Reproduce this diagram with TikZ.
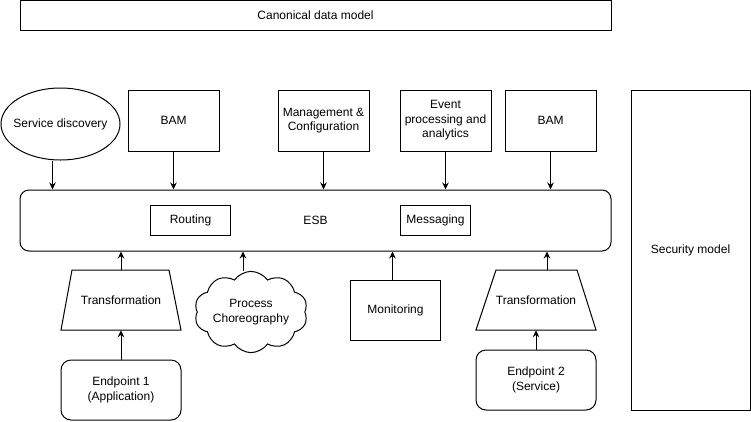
\documentclass[tikz,border=0pt]{standalone}
\usepackage{fontspec}
\setmainfont{Liberation Sans}
\usetikzlibrary{arrows.meta,shapes.geometric,shapes.symbols}
\begin{document}
\begin{tikzpicture}[x=1pt,y=-1pt,
  every node/.style={font=\fontsize{12}{14.5}\selectfont, align=center, inner sep=0pt},
  box/.style={draw, line width=1pt, rectangle},
  rbox/.style={draw, line width=1pt, rectangle, rounded corners=10pt},
  arr/.style={line width=1pt, -{Stealth[length=7pt,width=6.5pt]}},
  trap/.style={line width=1pt},
]
\useasboundingbox[fill=white] (0,0) rectangle (751,421);

% top band
\node[box, minimum width=591, minimum height=30] (cdm) at (315.5,15.5) {Canonical data model};

% upper services
\node[draw, ellipse, line width=1pt, minimum width=119, minimum height=72] (sd) at (60.5,124) {};
\node (sdt) at (sd.center) {Service discovery};
\node[box, minimum width=91, minimum height=61] (bam1) at (173.5,120.5) {BAM};
\node[box, minimum width=91, minimum height=61] (mgmt) at (323.5,120.5) {Management \&\\Configuration};
\node[box, minimum width=91, minimum height=61] (evt) at (445.5,120.5) {Event\\processing and\\analytics};
\node[box, minimum width=91, minimum height=61] (bam2) at (550.5,120.5) {BAM};

% security model
\node[box, minimum width=119, minimum height=320] (sec) at (690.5,250) {Security model};

% ESB
\node[rbox, rounded corners=9pt, minimum width=591, minimum height=61] (esb) at (315.5,220.5) {ESB};
\node[box, minimum width=80, minimum height=30] (rout) at (190.5,220) {Routing};
\node[box, minimum width=70, minimum height=30] (msg) at (435.5,220) {Messaging};

% transformations
\draw[trap] (72,270) -- (169,270) -- (181,330) -- (61,330) -- cycle;
\node[minimum width=120, minimum height=60] (tr1) at (121,300) {Transformation};
\draw[trap] (496,270) -- (577,270) -- (596,330) -- (476,330) -- cycle;
\node[minimum width=120, minimum height=60] (tr2) at (536,300) {Transformation};

% cloud
\node[draw, cloud, cloud puffs=10, cloud puff arc=110, line width=1pt, minimum width=104, minimum height=66, aspect=1.6] (cl) at (251,312) {Process\\Choreography};

% monitoring
\node[box, minimum width=90, minimum height=60] (mon) at (395.5,310) {Monitoring};

% endpoints
\node[rbox, minimum width=120, minimum height=60] (ep1) at (121,390) {Endpoint 1\\(Application)};
\node[rbox, minimum width=120, minimum height=60] (ep2) at (536,380) {Endpoint 2\\(Service)};

% arrows down into ESB
\draw[arr] ([xshift=-8pt]sd.south) -- ([xshift=-8pt]sd.south |- esb.north);
\draw[arr] (bam1.south) -- (bam1.south |- esb.north);
\draw[arr] (mgmt.south) -- (mgmt.south |- esb.north);
\draw[arr] (evt.south) -- (evt.south |- esb.north);
\draw[arr] (bam2.south) -- (bam2.south |- esb.north);

% arrows up into ESB
\draw[arr] (tr1.north) -- (tr1.north |- esb.south);
\draw[arr] ([xshift=-8pt]cl.north) -- ([xshift=-8pt]cl.north |- esb.south);
\draw[arr] ([xshift=-3pt]mon.north) -- ([xshift=-3pt]mon.north |- esb.south);
\draw[arr] ([xshift=11pt]tr2.north) -- ([xshift=11pt]tr2.north |- esb.south);

% endpoints to transformations
\draw[arr] (ep1.north) -- (tr1.south);
\draw[arr] (ep2.north) -- (tr2.south);
\end{tikzpicture}
\end{document}
